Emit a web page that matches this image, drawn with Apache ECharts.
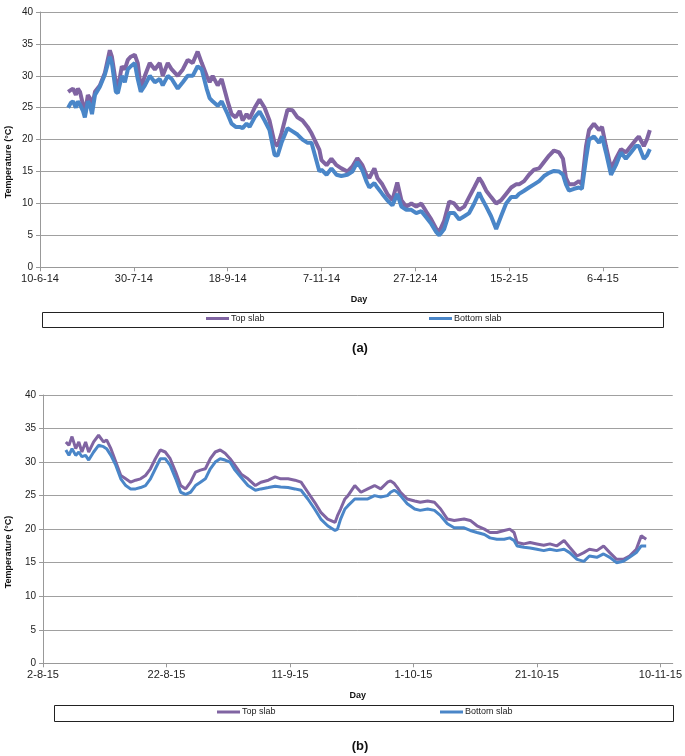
<!DOCTYPE html>
<html><head><meta charset="utf-8">
<script src="https://cdn.jsdelivr.net/npm/echarts@6/dist/echarts.min.js"></script>
<style>html,body{margin:0;padding:0;background:#fff}#c{width:685px;height:756px}</style>
</head><body><div id="c"></div>
<script>
// Panel (a): days since 10-6-14
const dayA = [15,16.5,17.6,19.1,20.2,21.3,22.9,23.9,25.5,26.6,27.7,29.3,31.9,34.6,37.2,38.3,40.4,41.5,43.6,45.2,46.8,48.4,50.5,52.1,53.7,55.9,58.5,61.2,63.8,65.4,68.1,70.2,73.4,76.1,78.7,81.4,84,86.2,88.8,90.4,92,94.7,96.8,100,102.1,104.3,106.4,108,110.1,111.7,114.4,117,119.7,122.3,125,126.6,128.7,131.9,134.6,137.2,139.9,142.6,144.7,148.9,150,152.7,155.3,158,160.6,163.8,166.5,169.1,171.8,173.9,175.5,178.2,179.8,182.4,185.1,187.8,190.4,192.6,195.2,197.9,200.5,203.2,205.9,208.5,211.2,212.8,215.4,218.1,220.7,223.4,226.1,228.7,231.4,234,235.6,237.8,240.4,243.1,245.7,248.4,251.1,253.7,255.3,258,260.6,263.3,266,268.6,271.3,273.9,276.6,278.7,280.3,281.9,284.6,287.2,288.8,291,292.6,295.2,297.9,299.5,301.6,304.3,306.9,309.6,312.2,314.9,317.6,319.1,321.8,323.4,325];
const topA = [27.5,27.8,28,27,28,27.5,25.5,24,27,26.5,25,27.5,28.5,30.5,34,33,29,28,31.5,31,32.5,33,33.3,32,28,30,32,31,32,30,32,31,30,31,32.5,32,33.8,32,30,29,30,28.5,29.5,26,24,23.5,24.5,23,24,23.3,25,26.3,25,23,19.5,19,21,24.7,24.6,23.5,23,22,21,18.4,16.8,16,17,16,15.5,15,15.8,17.1,16,14.5,14,15.5,14,13,11.5,10.5,13.3,10.5,9.5,10,9.5,10,8.7,7.5,6,5.6,7.3,10.3,10,9,9.5,11,12.5,14,13.3,12,11,10,10.5,11.5,12.5,13,13,13.5,14.5,15.3,15.5,16.5,17.5,18.3,18,17,14,13,13,13.5,13,19,21.5,22.5,21.5,22,19,15.5,17,18.5,18,19,20,20.5,19,20,21.5];
const botA = [25,25.8,26,25,26,25.5,24.5,23.5,26,25.5,24,27,28.3,30.2,33,32,27.5,27.3,30,29,31,31.5,32,29.5,27.5,28.5,30,29,29.5,28.5,30,29.5,28,29,30,30,31.5,31,28,26.5,26,25.3,26,24,22.5,22,22,21.8,22.5,22,23.5,24.4,23,21.5,17.6,17.5,19.5,21.8,21.3,20.8,20,19.5,19.5,15,15.3,14.5,15.5,14.5,14.3,14.5,15,16.5,15.2,13.5,12.5,13.2,12.5,11.5,10.5,9.7,11.5,9.5,9,9,8.5,8.8,7.8,6.8,5.5,5,6,8.5,8.5,7.5,8,8.5,10,11.7,10.7,9.5,8,6,8,10,11,11,11.5,12,12.5,13,13.5,14.3,14.8,15.1,15,14.5,13,12,12.3,12.5,12.3,17,20,20.5,19.5,20.5,18,14.5,16,18,17,18,19,19,17,17.5,18.5];
const xTicksA = ['10-6-14','30-7-14','18-9-14','7-11-14','27-12-14','15-2-15','6-4-15'];

// Panel (b): days since 2-8-15
const dayB = [3.7,4.2,4.7,5.3,5.8,6.3,6.9,7.4,8.2,9,9.8,10.3,11,11.8,12.6,13.4,14.2,15,15.8,16.6,17.4,18.2,19,19.8,20.6,21.5,22.3,23.1,23.9,24.7,25.5,26.3,27.1,27.9,28.7,29.5,30.3,31.1,32.1,33.2,34.4,35.3,36.5,37.6,38.5,39.7,40.8,41.8,42.9,44,45,46.1,47.3,47.7,48.2,48.9,49.4,50.5,51.5,52.6,53.7,54.7,55.8,56.3,56.9,57.4,57.9,59,60.2,61.1,62.3,63.4,64.4,65.5,66.6,68.2,69.2,70.3,71.5,72.4,73.5,74.7,75.6,76.3,76.8,77.9,78.9,80,81.1,82.1,83.2,84.4,85.3,86.5,87.6,88.5,89.7,90.8,91.8,92.9,94,95,96.1,96.9,97.7];
const topB = [33,32.5,33.8,32,33,31.5,33,31.5,33,34,33,33.3,32,30,28,27.5,27,27.3,27.5,28,29,30.5,31.8,31.5,30.5,28.5,26.5,26,27,28.5,28.8,29,30.5,31.5,31.8,31.3,30.5,29.5,28.2,27.5,26.5,27,27.3,27.8,27.5,27.5,27.3,27,25.5,24,22.5,21.5,21,22,23,24.5,25,26.5,25.5,26,26.5,26,27,27.2,26.8,26.2,25.5,24.5,24.2,24,24.2,24,23,21.5,21.3,21.5,21.3,20.5,20,19.5,19.5,19.8,20,19.5,18,17.8,18,17.8,17.6,17.8,17.5,18.3,17.3,16,16.5,17,16.8,17.5,16.5,15.5,15.5,16,17,19,18.5];
const botB = [31.8,31,32,31,31.5,30.8,31,30.3,31.5,32.5,32.3,32,31,29.5,27.5,26.5,26,26,26.2,26.5,27.5,29,30.5,30.5,29.5,27.5,25.5,25.2,25.5,26.5,27,27.5,29,30,30.5,30.3,30,28.8,27.7,26.5,25.8,26,26.2,26.4,26.3,26.2,26,25.8,24.5,23,21.5,20.5,19.8,20,21.5,23,23.5,24.5,24.5,24.5,25,24.8,25,25.5,25.8,25.5,25,23.8,23,22.8,23,22.8,22,20.8,20.2,20.2,19.8,19.5,19.2,18.7,18.5,18.5,18.7,18.3,17.5,17.3,17.2,17,16.8,17,16.8,17,16.5,15.5,15.2,16,15.8,16.3,15.8,15,15.2,15.8,16.5,17.5,17.5];
const xTicksB = ['2-8-15','22-8-15','11-9-15','1-10-15','21-10-15','10-11-15'];

const yTicks = ['0','5','10','15','20','25','30','35','40'];
const seriesNames = ['Top slab','Bottom slab'];

const PURPLE = '#8064A2', BLUE = '#4A86C8';
const FONT = "'Liberation Sans', Arial, sans-serif";

function pair(days, vals){ return days.map((d,i)=>[d, vals[i]]); }

function xAxis(grid, max, interval, ticks){
  const vals = ticks.map((t,k)=>k*interval);
  return {
    type:'value', gridIndex:grid, min:0, max:max, interval:interval,
    name:'Day', nameLocation:'middle', nameGap:28,
    nameTextStyle:{fontFamily:FONT, fontSize:9, fontWeight:'bold', color:'#111'},
    axisLine:{show:true, lineStyle:{color:'#999', width:1}},
    axisTick:{show:true, length:4, inside:false, customValues:vals, lineStyle:{color:'#999'}},
    splitLine:{show:false},
    axisLabel:{fontFamily:FONT, fontSize:11, color:'#222', margin:6, customValues:vals,
      formatter:(v)=>{ const k = Math.round(v/interval); return (Math.abs(v-k*interval)<1e-6 && k < ticks.length) ? ticks[k] : ''; }}
  };
}
function yAxis(grid){
  return {
    type:'value', gridIndex:grid, min:0, max:40, interval:5,
    axisLine:{show:true, lineStyle:{color:'#999', width:1}},
    axisTick:{show:true, length:4, inside:false, lineStyle:{color:'#999'}},
    splitLine:{show:true, lineStyle:{color:'#a0a0a0', width:1}},
    axisLabel:{fontFamily:FONT, fontSize:10, color:'#222', margin:7,
      formatter:(v)=>yTicks[v/5]}
  };
}
function line(name, grid, data, color, w){
  return {type:'line', name:name, xAxisIndex:grid, yAxisIndex:grid, data:data,
    showSymbol:false, symbol:'none', smooth:false, animation:false,
    lineStyle:{color:color, width:w}, itemStyle:{color:color}};
}
function legend(name, left, top){
  return {data:[name], left:left, top:top, padding:0, icon:'rect', itemWidth:23, itemHeight:3,
    itemGap:2, textStyle:{fontFamily:FONT, fontSize:9, color:'#222', padding:[0,0,0,-3]}, selectedMode:false};
}

const chart = echarts.init(document.getElementById('c'), null, {renderer:'canvas'});
chart.setOption({
  backgroundColor:'#fff',
  animation:false,
  grid:[
    {left:40, right:7, top:12, bottom:488.7},
    {left:43, right:10, top:395, bottom:92.7}
  ],
  xAxis:[xAxis(0, 340, 50, xTicksA), xAxis(1, 102, 20, xTicksB)],
  yAxis:[yAxis(0), yAxis(1)],
  legend:[
    legend(seriesNames[0], 206, 314),
    legend(seriesNames[1], 429, 314),
    legend(seriesNames[0], 217, 707.5),
    legend(seriesNames[1], 440, 707.5)
  ],
  series:[
    line(seriesNames[0], 0, pair(dayA, topA), PURPLE, 4),
    line(seriesNames[1], 0, pair(dayA, botA), BLUE, 4),
    line(seriesNames[0], 1, pair(dayB, topB), PURPLE, 3),
    line(seriesNames[1], 1, pair(dayB, botB), BLUE, 3)
  ],
  graphic:[
    {type:'rect', shape:{x:42.5, y:312.5, width:621, height:15}, style:{fill:'none', stroke:'#222', lineWidth:1}},
    {type:'rect', shape:{x:54.5, y:705.5, width:619, height:16}, style:{fill:'none', stroke:'#222', lineWidth:1}},
    {type:'text', x:9, y:162, rotation:Math.PI/2, style:{text:'Temperature (°C)', font:"bold 9px 'Liberation Sans', Arial, sans-serif", fill:'#111', align:'center', verticalAlign:'middle', textAlign:'center', textVerticalAlign:'middle'}},
    {type:'text', x:9, y:552, rotation:Math.PI/2, style:{text:'Temperature (°C)', font:"bold 9px 'Liberation Sans', Arial, sans-serif", fill:'#111', align:'center', verticalAlign:'middle', textAlign:'center', textVerticalAlign:'middle'}},
    {type:'text', x:360, y:348, style:{text:'(a)', font:"bold 13px 'Liberation Sans', Arial, sans-serif", fill:'#111', align:'center', verticalAlign:'middle', textAlign:'center', textVerticalAlign:'middle'}},
    {type:'text', x:360, y:746, style:{text:'(b)', font:"bold 13px 'Liberation Sans', Arial, sans-serif", fill:'#111', align:'center', verticalAlign:'middle', textAlign:'center', textVerticalAlign:'middle'}}
  ]
});
</script>
</body></html>
